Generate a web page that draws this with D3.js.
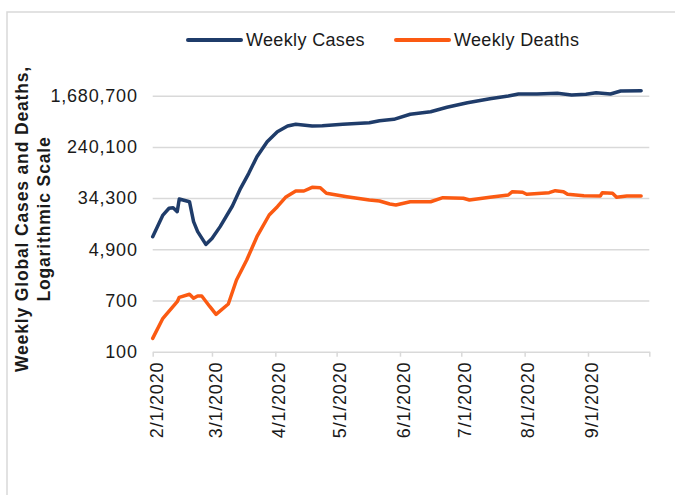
<!DOCTYPE html>
<html>
<head>
<meta charset="utf-8">
<script src="https://cdn.jsdelivr.net/npm/d3@7"></script>
<style>
    body { margin: 0; background: #fff; }
    svg { display: block; font-family: "Liberation Sans", Arial, sans-serif; }
    .axis text { fill: #1a1a1a; font-size: 18px; letter-spacing: 0.8px; }
</style>
</head>
<body>
<svg id="chart" width="675" height="495"></svg>
<script>
// weekly global cases (log scale)
var caseDates = ["2020-02-01", "2020-02-06", "2020-02-09", "2020-02-11", "2020-02-13", "2020-02-14", "2020-02-19",
    "2020-02-21", "2020-02-23", "2020-02-27", "2020-03-01", "2020-03-05", "2020-03-11", "2020-03-15", "2020-03-19",
    "2020-03-23", "2020-03-28", "2020-04-02", "2020-04-07", "2020-04-11", "2020-04-19", "2020-04-24", "2020-05-04",
    "2020-05-17", "2020-05-22", "2020-05-29", "2020-06-06", "2020-06-16", "2020-06-24", "2020-07-04", "2020-07-15",
    "2020-07-24", "2020-07-29", "2020-08-07", "2020-08-17", "2020-08-24", "2020-08-31", "2020-09-05", "2020-09-12",
    "2020-09-17", "2020-09-27"];
var caseValues = [7900, 18000, 23300, 23800, 20500, 33200, 29900,
    14000, 9600, 5900, 7400, 11600, 25400, 49800, 88000,
    165000, 292000, 428000, 531000, 566000, 531000, 537000, 566000,
    602000, 650000, 685000, 829000, 915000, 1082000, 1288000, 1500000,
    1662000, 1793000, 1793000, 1842000, 1726000, 1773000, 1884000, 1793000,
    2010000, 2033000];

// weekly global deaths
var deathDates = ["2020-02-01", "2020-02-06", "2020-02-13", "2020-02-14", "2020-02-19", "2020-02-21", "2020-02-23",
    "2020-02-25", "2020-02-29", "2020-03-03", "2020-03-09", "2020-03-13", "2020-03-18", "2020-03-23", "2020-03-29",
    "2020-04-02", "2020-04-06", "2020-04-11", "2020-04-15", "2020-04-19", "2020-04-23", "2020-04-26", "2020-05-06",
    "2020-05-17", "2020-05-22", "2020-05-27", "2020-05-30", "2020-06-06", "2020-06-16", "2020-06-22", "2020-07-02",
    "2020-07-05", "2020-07-15", "2020-07-24", "2020-07-26", "2020-07-31", "2020-08-02", "2020-08-13", "2020-08-16",
    "2020-08-20", "2020-08-22", "2020-08-30", "2020-09-07", "2020-09-08", "2020-09-13", "2020-09-15", "2020-09-20",
    "2020-09-27"];
var deathValues = [166, 356, 669, 790, 886, 761, 831,
    831, 553, 414, 613, 1526, 3263, 7910, 18040,
    24740, 35360, 44930, 44930, 51710, 50930, 41170, 36180,
    31920, 30730, 27420, 26400, 29900, 29900, 34830, 34040,
    31920, 35360, 38600, 43750, 42760, 39640, 42120, 45450,
    43750, 39640, 37590, 37160, 42120, 41170, 35360, 37160,
    37160];

var yTicks = [100, 700, 4900, 34300, 240100, 1680700];
var xTicks = ["2020-02-01", "2020-03-01", "2020-04-01", "2020-05-01", "2020-06-01", "2020-07-01",
    "2020-08-01", "2020-09-01", "2020-10-01"];
var seriesNames = ["Weekly Cases", "Weekly Deaths"];
var seriesColors = ["#1f3c6a", "#fb5a12"];

var parse = d3.timeParse("%Y-%m-%d");
var svg = d3.select("#chart");

var margin = { top: 95.7, left: 152.7, right: 25.7, bottom: 143.3 },
    width = 675 - margin.left - margin.right,
    height = 495 - margin.top - margin.bottom;

// outer frame
svg.append("path")
    .attr("d", "M7,495V12H675")
    .attr("fill", "none")
    .attr("stroke", "#d9d9d9")
    .attr("stroke-width", 1.5);

var g = svg.append("g").attr("transform", "translate(" + margin.left + "," + margin.top + ")");

var x = d3.scaleTime().domain([parse(xTicks[0]), parse(xTicks[xTicks.length - 1])]).range([0, width]);
var y = d3.scaleLog().domain([yTicks[0], yTicks[yTicks.length - 1]]).range([height, 0]);

// y axis + gridlines
var yAxis = g.append("g").attr("class", "axis axis--y")
    .call(d3.axisLeft(y).tickValues(yTicks).tickFormat(d3.format(",")).tickSize(-width).tickPadding(15));
yAxis.select(".domain").remove();
yAxis.selectAll(".tick line").attr("stroke", "#d9d9d9").attr("stroke-width", 1.5);
yAxis.selectAll(".tick").filter(function(d) { return d === yTicks[0]; }).select("line").remove();

// x axis
var fmt = d3.timeFormat("%-m/%-d/%Y");
var xAxis = g.append("g").attr("class", "axis axis--x")
    .attr("transform", "translate(0," + height + ")")
    .call(d3.axisBottom(x).tickValues(xTicks.map(parse)).tickSizeOuter(0).tickSizeInner(5)
        .tickFormat(function(d, i) { return i === xTicks.length - 1 ? "" : fmt(d); }));
xAxis.select(".domain").attr("stroke", "#d9d9d9").attr("stroke-width", 1.5);
xAxis.selectAll(".tick line").attr("stroke", "#d9d9d9").attr("stroke-width", 1.5);
xAxis.selectAll(".tick text")
    .attr("transform", "translate(3,0) rotate(-90)")
    .attr("text-anchor", "end")
    .attr("x", -10)
    .attr("y", 0)
    .attr("dy", "0.35em");

// lines
var line = d3.line()
    .x(function(d) { return x(d.date); })
    .y(function(d) { return y(d.value); });

var series = [
    caseDates.map(function(d, i) { return { date: parse(d), value: caseValues[i] }; }),
    deathDates.map(function(d, i) { return { date: parse(d), value: deathValues[i] }; })
];

g.selectAll(".series")
    .data(series)
    .enter().append("path")
    .attr("class", "series")
    .attr("d", line)
    .attr("fill", "none")
    .attr("stroke", function(d, i) { return seriesColors[i]; })
    .attr("stroke-width", 3.5)
    .attr("stroke-linejoin", "round")
    .attr("stroke-linecap", "round");

// y title
var titleLines = ["Weekly Global Cases and Deaths,", "Logarithmic Scale"];
svg.selectAll(".ytitle")
    .data(titleLines)
    .enter().append("text")
    .attr("class", "ytitle")
    .attr("transform", function(d, i) { return "translate(" + (22 + i * 21.5) + ",219) rotate(-90)"; })
    .attr("text-anchor", "middle")
    .attr("dy", "0.35em")
    .style("font-size", "17.5px")
    .style("font-weight", "bold")
    .style("letter-spacing", "0.85px")
    .attr("fill", "#1a1a1a")
    .text(function(d) { return d; });

// legend
var legendX = [188, 396];
var legend = svg.selectAll(".legend")
    .data(seriesNames)
    .enter().append("g")
    .attr("class", "legend")
    .attr("transform", function(d, i) { return "translate(" + legendX[i] + ",40)"; });

legend.append("line")
    .attr("x1", 0).attr("x2", 53)
    .attr("stroke", function(d, i) { return seriesColors[i]; })
    .attr("stroke-width", 4)
    .attr("stroke-linecap", "round");

legend.append("text")
    .attr("x", 58)
    .attr("dy", "0.35em")
    .style("font-size", "18px")
    .style("letter-spacing", "0.35px")
    .attr("fill", "#1a1a1a")
    .text(function(d) { return d; });
</script>
</body>
</html>
